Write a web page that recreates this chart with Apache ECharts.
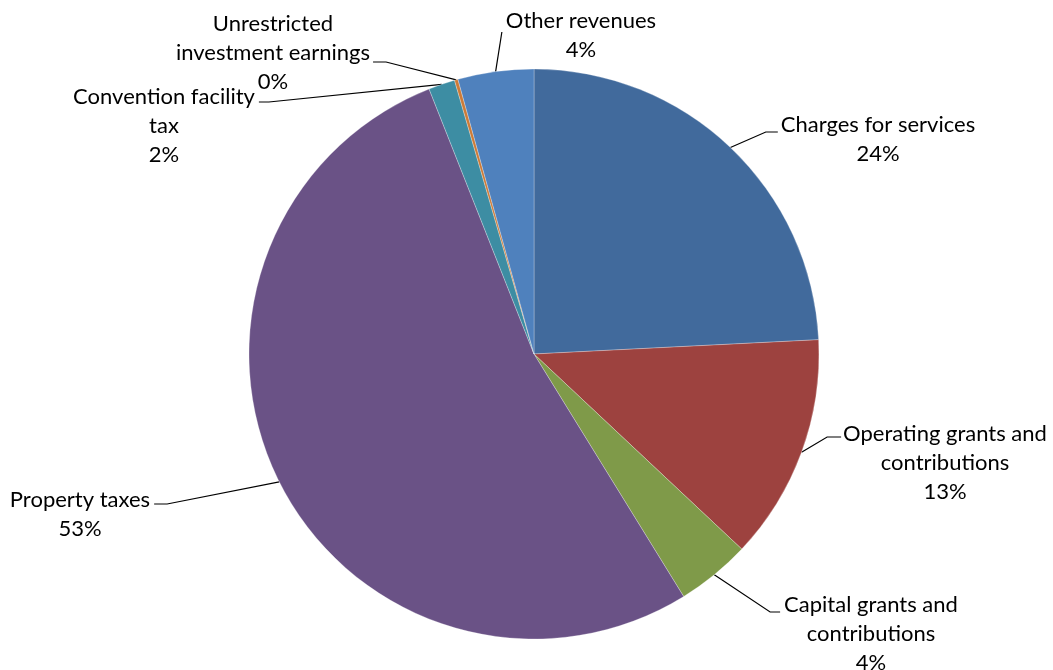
<!DOCTYPE html>
<html>
<head>
<meta charset="utf-8">
<script src="https://cdn.jsdelivr.net/npm/echarts@6/dist/echarts.min.js"></script>
<style>
  html, body { margin: 0; padding: 0; background: #ffffff; }
  #chart { width: 1053px; height: 670px; }
</style>
</head>
<body>
<div id="chart"></div>
<script>
// Revenue sources (share of total, %)
const categories = [
  'Charges for services',
  'Operating grants and\ncontributions',
  'Capital grants and\ncontributions',
  'Property taxes',
  'Convention facility\ntax',
  'Unrestricted\ninvestment earnings',
  'Other revenues'
];
const shares = [24.2, 12.8, 4.2, 52.8, 1.5, 0.2, 4.3];

const sliceColors = ['#416A9C', '#9D423F', '#7F9A49', '#6A5286', '#3D8DA3', '#CC7B38', '#4F81BD'];

// Where each label block sits (centre x, top y) and how its leader line meets it
const labelPlacement = [
  { cx: 878, top: 110, side: 'right', attach: 22, seg: 12, gap: 3 },
  { cx: 945, top: 419, side: 'right', attach: 18, seg: 14, gap: 2 },
  { cx: 871, top: 590, side: 'right', attach: 22, seg: 10, gap: 4 },
  { cx: 80,  top: 485, side: 'left',  attach: 19, seg: 13, gap: 4 },
  { cx: 164, top: 82,  side: 'left',  attach: 20, seg: 10, gap: 4 },
  { cx: 273, top: 9,   side: 'left',  attach: 53, seg: 13, gap: 3 },
  { cx: 581, top: 6,   side: 'right', attach: 26, seg: 0,  gap: 4 }
];

const FONT_FAMILY = 'Lato';
const FONT_SIZE = 22;
const LINE_HEIGHT = 29;

const pieCenter = [534, 354];
const pieRadius = 285;

function labelText(name, percent) {
  return name + '\n' + Math.round(percent) + '%';
}

// Width of a multi-line label block in the label font
const measureCtx = document.createElement('canvas').getContext('2d');
measureCtx.font = FONT_SIZE + 'px ' + FONT_FAMILY;
function blockWidth(text) {
  return Math.max.apply(null, text.split('\n').map(s => measureCtx.measureText(s).width));
}

// Mid-angle point on the rim of slice i, where its leader line starts
function rimPoint(i) {
  const total = shares.reduce((a, b) => a + b, 0);
  let before = 0;
  for (let k = 0; k < i; k++) before += shares[k];
  const mid = (before + shares[i] / 2) / total * Math.PI * 2;
  return [pieCenter[0] + pieRadius * Math.sin(mid), pieCenter[1] - pieRadius * Math.cos(mid)];
}

const chart = echarts.init(document.getElementById('chart'), null, { renderer: 'canvas' });

chart.setOption({
  backgroundColor: '#ffffff',
  animation: false,
  series: [{
    type: 'pie',
    center: pieCenter,
    radius: pieRadius,
    startAngle: 90,
    clockwise: true,
    avoidLabelOverlap: false,
    minShowLabelAngle: 0,
    data: categories.map((name, i) => ({
      name: name,
      value: shares[i],
      itemStyle: { color: sliceColors[i] }
    })),
    itemStyle: { borderColor: 'rgba(255,255,255,0.45)', borderWidth: 0.6 },
    label: {
      show: true,
      position: 'outside',
      formatter: p => labelText(p.name, p.percent),
      fontFamily: FONT_FAMILY,
      fontSize: FONT_SIZE,
      lineHeight: LINE_HEIGHT,
      color: '#000000',
      align: 'center'
    },
    labelLine: {
      show: true,
      length: 10,
      length2: 10,
      lineStyle: { color: '#000000', width: 1.2 }
    },
    emphasis: { disabled: true },
    labelLayout: function (p) {
      const i = p.dataIndex;
      const cfg = labelPlacement[i];
      const w = blockWidth(labelText(categories[i], shares[i] / shares.reduce((a, b) => a + b, 0) * 100));
      const left = cfg.cx - w / 2;
      const right = cfg.cx + w / 2;
      const ay = cfg.top + cfg.attach;
      const start = rimPoint(i);
      let pts;
      if (cfg.side === 'right') {
        const ex = left - cfg.gap;
        pts = [start, [ex - cfg.seg, ay], [ex, ay]];
      } else {
        const ex = right + cfg.gap;
        pts = [start, [ex + cfg.seg, ay], [ex, ay]];
      }
      return {
        x: cfg.cx,
        y: cfg.top,
        align: 'center',
        verticalAlign: 'top',
        labelLinePoints: pts
      };
    }
  }]
});
</script>
</body>
</html>
